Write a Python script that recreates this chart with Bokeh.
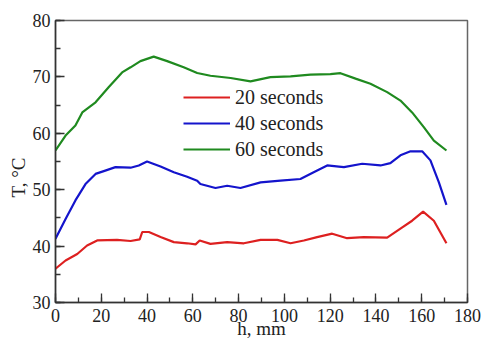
from bokeh.plotting import figure
from bokeh.models import Range1d, SingleIntervalTicker, Legend, LegendItem, Title
from bokeh.embed import file_html
from bokeh.resources import INLINE

# ---- data ----
x20 = [0, 4.4, 9.5, 13.8, 18.2, 26.9, 32.8, 36.8, 37.9, 40.8, 45.9, 51.7, 57.5, 61.2, 63,
       67.7, 75, 82.3, 89.6, 96.9, 102.7, 108.5, 114.3, 120.9, 127.4, 134.7, 144.9, 150.7,
       155.8, 160.6, 165.3, 170.8]
t20 = [36.0, 37.45, 38.6, 40.1, 41.0, 41.1, 40.9, 41.2, 42.5, 42.5, 41.6, 40.7, 40.5, 40.3, 41.0,
       40.4, 40.7, 40.5, 41.1, 41.1, 40.5, 41.0, 41.6, 42.2, 41.4, 41.6, 41.5, 43.1,
       44.5, 46.1, 44.5, 40.5]

x40 = [0, 4.4, 8.7, 13.1, 17.5, 21.1, 26.2, 32.8, 36.4, 40.0, 45.9, 51.7, 57.5, 61.9, 63.3,
       69.9, 75, 80.8, 89.6, 98.3, 107, 112.8, 118.7, 123.8, 126, 134, 142, 146.3, 150.7,
       155.1, 160.2, 163.8, 167.5, 170.8]
t40 = [41.3, 44.8, 48.1, 51.0, 52.8, 53.3, 54.0, 53.9, 54.3, 55.0, 54.1, 53.1, 52.3, 51.6, 51.0,
       50.3, 50.7, 50.3, 51.3, 51.6, 51.9, 53.1, 54.3, 54.1, 54.0, 54.6, 54.3, 54.7, 56.1,
       56.8, 56.8, 55.2, 51.3, 47.3]

x60 = [0, 4.4, 8.7, 11.7, 17.5, 23.3, 29.1, 32.8, 37.1, 42.9, 48.8, 56, 61.9, 67.7, 76.5,
       85.2, 93.9, 102.7, 111.4, 120.1, 124.5, 131.1, 137.6, 144.9, 150.7, 155.8, 160.9,
       165.3, 170.8]
t60 = [56.95, 59.6, 61.4, 63.7, 65.5, 68.2, 70.8, 71.7, 72.8, 73.6, 72.8, 71.7, 70.7, 70.2, 69.8,
       69.2, 69.95, 70.1, 70.4, 70.5, 70.66, 69.7, 68.8, 67.3, 65.8, 63.7, 61.1,
       58.7, 56.95]

series_labels = ["20 seconds", "40 seconds", "60 seconds"]
series_colors = ["#dd2020", "#1414cc", "#1f8a1f"]
x_title = "h, mm"
y_title = "T, \u00b0C"

FONT = "'Liberation Serif', 'Times New Roman', serif"

p = figure(width=482, height=342, output_backend="svg", toolbar_location=None,
           x_range=Range1d(0, 180), y_range=Range1d(30, 80),
           min_border_left=55, min_border_right=15, min_border_top=20, min_border_bottom=40)
p.background_fill_color = "white"
p.border_fill_color = "white"
p.xgrid.visible = False
p.ygrid.visible = False
p.outline_line_color = "#666666"
p.outline_line_width = 1.5

p.xaxis.ticker = SingleIntervalTicker(interval=20, num_minor_ticks=2)
p.yaxis.ticker = SingleIntervalTicker(interval=10, num_minor_ticks=2)
for ax in (p.xaxis, p.yaxis):
    ax.axis_line_color = "#333333"
    ax.axis_line_width = 1.5
    ax.major_tick_line_color = "#333333"
    ax.minor_tick_line_color = "#333333"
    ax.major_tick_line_width = 1.3
    ax.minor_tick_line_width = 1.3
    ax.major_tick_in = 9
    ax.major_tick_out = 0
    ax.minor_tick_in = 5
    ax.minor_tick_out = 0
    ax.major_label_text_font = FONT
    ax.major_label_text_font_size = "18px"
    ax.major_label_text_color = "#222222"
    ax.axis_label_text_font = FONT
    ax.axis_label_text_font_size = "19px"
    ax.axis_label_text_font_style = "normal"
    ax.axis_label_text_color = "#222222"
p.xaxis.major_label_standoff = 6
p.yaxis.major_label_standoff = 5
p.xaxis.axis_label = x_title
p.xaxis.axis_label_standoff = -7

# y title as a left-side Title so it can sit below the frame centre like the reference
ytitle = Title(text=y_title, align="left", offset=105, standoff=1,
               text_font=FONT, text_font_size="19px", text_font_style="normal",
               text_color="#222222")
p.add_layout(ytitle, "left")

items = []
for xs, ys, lab, col in zip([x20, x40, x60], [t20, t40, t60], series_labels, series_colors):
    r = p.line(xs, ys, line_color=col, line_width=2.2)
    items.append(LegendItem(label=lab, renderers=[r]))

legend = Legend(items=items, location=(128, 140), glyph_width=47, glyph_height=26,
                label_height=26, spacing=0, padding=0, margin=0, label_standoff=5,
                label_text_font=FONT, label_text_font_size="20px", label_text_color="#222222",
                border_line_color=None, background_fill_alpha=0)
p.add_layout(legend)

open("out.html", "w").write(file_html(p, INLINE))
